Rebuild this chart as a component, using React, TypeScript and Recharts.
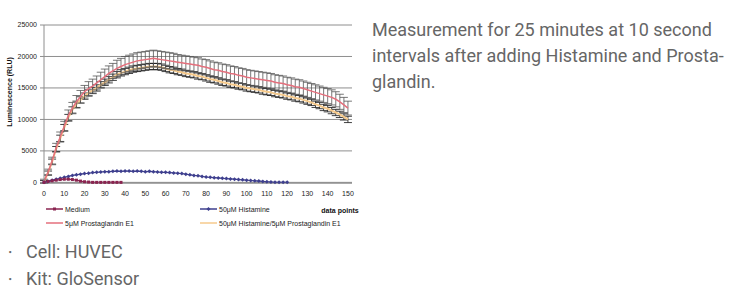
import React from "react";
import { LineChart, Line, XAxis, YAxis, CartesianGrid, ErrorBar, Legend } from "recharts";

// data points (x), sampled every 2 points
const points: number[] = [
  0, 2, 4, 6, 8, 10, 12, 14, 16, 18, 20, 22, 24, 26, 28, 30, 32, 34, 36, 38,
  40, 42, 44, 46, 48, 50, 52, 54, 56, 58, 60, 62, 64, 66, 68, 70, 72, 74, 76, 78,
  80, 82, 84, 86, 88, 90, 92, 94, 96, 98, 100, 102, 104, 106, 108, 110, 112, 114, 116, 118,
  120, 122, 124, 126, 128, 130, 132, 134, 136, 138, 140, 142, 144, 146, 148, 150,
];

const medium: (number | null)[] = [
  0, 150, 250, 350, 450, 500, 500, 450, 350, 200, 100, 50, 0, 0, 0, 0, 0, 0, 0, 0,
];

const histamine: (number | null)[] = [
  0, 150, 350, 500, 650, 800, 950, 1100, 1200, 1300, 1400, 1450, 1550, 1600, 1650, 1700, 1700, 1750, 1800, 1750,
  1800, 1800, 1750, 1800, 1750, 1700, 1750, 1700, 1650, 1600, 1600, 1550, 1500, 1450, 1400, 1300, 1200, 1100, 1050, 950,
  850, 800, 750, 700, 650, 600, 550, 500, 450, 400, 350, 300, 250, 200, 150, 100, 50, 0, 0, 0,
  0,
];

const prostaglandin: number[] = [
  200, 1600, 3400, 5500, 7200, 8900, 10600, 11800, 12800, 13600, 14400, 14900, 15300, 15800, 16300, 16800, 17300, 17700, 18100, 18400,
  18700, 18900, 19100, 19300, 19400, 19500, 19600, 19700, 19600, 19500, 19400, 19300, 19200, 19100, 19000, 18900, 18800, 18700, 18600, 18400,
  18300, 18100, 17900, 17800, 17600, 17500, 17300, 17200, 17000, 16900, 16700, 16600, 16500, 16400, 16300, 16200, 16100, 15900, 15800, 15700,
  15500, 15400, 15200, 15100, 14900, 14700, 14500, 14300, 14100, 13900, 13700, 13500, 13200, 12800, 12300, 11800,
];

const prostaglandinErr: number[] = [
  300, 500, 600, 700, 800, 800, 900, 900, 1000, 1000, 1000, 1100, 1100, 1100, 1200, 1200, 1200, 1200, 1300, 1300,
  1300, 1300, 1300, 1300, 1300, 1300, 1300, 1300, 1300, 1300, 1300, 1300, 1300, 1200, 1200, 1200, 1200, 1200, 1200, 1200,
  1200, 1200, 1200, 1200, 1200, 1200, 1200, 1200, 1200, 1200, 1200, 1200, 1200, 1200, 1200, 1200, 1200, 1200, 1200, 1200,
  1200, 1200, 1200, 1200, 1200, 1200, 1200, 1200, 1200, 1200, 1200, 1200, 1200, 1200, 1200, 1100,
];

const combined: number[] = [
  100, 1500, 3300, 5300, 7000, 8700, 10300, 11500, 12400, 13100, 13700, 14200, 14600, 15000, 15500, 15900, 16300, 16700, 17100, 17400,
  17600, 17800, 18000, 18100, 18200, 18300, 18400, 18400, 18400, 18300, 18100, 17900, 17800, 17600, 17500, 17300, 17200, 17100, 16900, 16800,
  16600, 16400, 16300, 16100, 15900, 15800, 15600, 15500, 15300, 15200, 15000, 14900, 14800, 14700, 14500, 14400, 14300, 14100, 14000, 13900,
  13700, 13600, 13400, 13300, 13100, 12900, 12700, 12400, 12200, 11900, 11700, 11400, 11100, 10800, 10400, 10000,
];

const combinedErr: number[] = [
  200, 300, 400, 400, 500, 500, 500, 500, 500, 500, 500, 500, 500, 500, 500, 500, 500, 500, 500, 500,
  500, 500, 500, 500, 500, 500, 500, 500, 500, 500, 500, 500, 500, 500, 500, 500, 500, 500, 500, 500,
  500, 500, 500, 500, 500, 500, 500, 500, 500, 500, 500, 500, 500, 500, 500, 500, 500, 500, 500, 500,
  500, 500, 500, 500, 500, 500, 500, 500, 500, 500, 500, 500, 500, 500, 500, 500,
];

const xTicks: number[] = [0, 10, 20, 30, 40, 50, 60, 70, 80, 90, 100, 110, 120, 130, 140, 150];
const yTicks: number[] = [0, 5000, 10000, 15000, 20000, 25000];

const seriesNames = {
  m: "Medium",
  h: "50\u03bcM Histamine",
  p: "5\u03bcM Prostaglandin E1",
  c: "50\u03bcM Histamine/5\u03bcM Prostaglandin E1",
};

const COLORS = {
  m: "#8a2450",
  h: "#3e3f8e",
  p: "#e46f7c",
  c: "#f6ca8c",
};

const data = points.map((x, i) => ({
  x,
  m: i < medium.length ? medium[i] : null,
  h: i < histamine.length ? histamine[i] : null,
  p: prostaglandin[i],
  pe: prostaglandinErr[i],
  c: combined[i],
  ce: combinedErr[i],
}));

const FONT = "'Liberation Sans', Arial, sans-serif";

const SquareDot = (props: any) => {
  const { cx, cy } = props;
  if (cx == null || cy == null || props.value == null) return null;
  return <rect x={cx - 1.5} y={cy - 1.5} width={3} height={3} fill={COLORS.m} />;
};

const DiamondDot = (props: any) => {
  const { cx, cy } = props;
  if (cx == null || cy == null || props.value == null) return null;
  return (
    <polygon
      points={`${cx},${cy - 2} ${cx + 2},${cy} ${cx},${cy + 2} ${cx - 2},${cy}`}
      fill={COLORS.h}
    />
  );
};

const LegendContent = () => {
  const item = (x: number, y: number, color: string, label: string, marker?: "sq" | "di") => (
    <g key={label}>
      <line x1={x} y1={y} x2={x + 17} y2={y} stroke={color} strokeWidth={1.5} />
      {marker === "sq" && <rect x={x + 7} y={y - 1.5} width={3} height={3} fill={color} />}
      {marker === "di" && (
        <polygon points={`${x + 8.5},${y - 2} ${x + 10.5},${y} ${x + 8.5},${y + 2} ${x + 6.5},${y}`} fill={color} />
      )}
      <text x={x + 19} y={y + 2.5} fontSize={7} fill="#222" fontFamily={FONT}>
        {label}
      </text>
    </g>
  );
  return (
    <svg width={360} height={30} style={{ display: "block" }}>
      {item(46, 7, COLORS.m, seriesNames.m, "sq")}
      {item(200, 7, COLORS.h, seriesNames.h, "di")}
      {item(46, 21, COLORS.p, seriesNames.p)}
      {item(200, 21, COLORS.c, seriesNames.c)}
    </svg>
  );
};

const YLabel = () => (
  <text
    x={12}
    y={92}
    transform="rotate(-90 12 92)"
    textAnchor="middle"
    fontSize={7}
    fontWeight="bold"
    fill="#111"
    fontFamily={FONT}
  >
    Luminescence (RLU)
  </text>
);

const XLabel = (props: any) => {
  const vb = props.viewBox || { x: 44, y: 183, width: 308, height: 20 };
  return (
    <text
      x={vb.x + vb.width - 12}
      y={vb.y + 30}
      textAnchor="middle"
      fontSize={7}
      fontWeight="bold"
      fill="#111"
      fontFamily={FONT}
    >
      data points
    </text>
  );
};

const textStyle: React.CSSProperties = {
  position: "absolute",
  fontFamily: "Roboto, 'Noto Sans', sans-serif",
  fontSize: 18,
  color: "#666",
  whiteSpace: "nowrap",
};

const bulletStyle: React.CSSProperties = {
  display: "inline-block",
  width: 18,
  position: "relative",
  left: -5,
  fontSize: 14,
  verticalAlign: "1px",
};

export default function App() {
  return (
    <div style={{ position: "absolute", left: 0, top: 0, width: 750, height: 293, background: "#fff", overflow: "hidden" }}>
      <div style={{ position: "absolute", left: 0, top: 0 }}>
        <LineChart width={360} height={240} data={data} margin={{ top: 25, right: 8, bottom: 37, left: 0 }}>
          <CartesianGrid vertical={false} stroke="#8e8e8e" strokeWidth={1} />
          <XAxis
            dataKey="x"
            type="number"
            domain={[0, 152]}
            ticks={xTicks}
            interval={0}
            tickLine={false}
            axisLine={{ stroke: "#8e8e8e" }}
            tick={{ fontSize: 7, fill: "#222", fontFamily: FONT }}
            height={20}
            label={<XLabel />}
          />
          <YAxis
            type="number"
            domain={[0, 25000]}
            ticks={yTicks}
            interval={0}
            width={44}
            tickSize={4}
            tickMargin={3}
            tickLine={{ stroke: "#8e8e8e" }}
            axisLine={{ stroke: "#8e8e8e" }}
            tick={{ fontSize: 7, fill: "#222", fontFamily: FONT }}
            label={<YLabel />}
          />
          <Line
            dataKey="c"
            name={seriesNames.c}
            stroke={COLORS.c}
            strokeWidth={2}
            dot={false}
            isAnimationActive={false}
          >
            <ErrorBar dataKey="ce" width={4} stroke="#111" strokeWidth={0.8} direction="y" />
          </Line>
          <Line
            dataKey="p"
            name={seriesNames.p}
            stroke={COLORS.p}
            strokeWidth={1.5}
            dot={false}
            isAnimationActive={false}
          >
            <ErrorBar dataKey="pe" width={4} stroke="#555" strokeWidth={0.8} direction="y" />
          </Line>
          <Line
            dataKey="h"
            name={seriesNames.h}
            stroke={COLORS.h}
            strokeWidth={1.2}
            dot={<DiamondDot />}
            connectNulls={false}
            isAnimationActive={false}
          />
          <Line
            dataKey="m"
            name={seriesNames.m}
            stroke={COLORS.m}
            strokeWidth={1.2}
            dot={<SquareDot />}
            connectNulls={false}
            isAnimationActive={false}
          />
          <Legend
            layout="horizontal"
            verticalAlign="middle"
            align="center"
            content={<LegendContent />}
            wrapperStyle={{ position: "absolute", top: 202, left: 0, width: 360, height: 30 }}
          />
        </LineChart>
      </div>

      <div style={{ ...textStyle, left: 372, top: 17, lineHeight: "26px" }}>
        Measurement for 25 minutes at 10 second
        <br />
        intervals after adding Histamine and Prosta-
        <br />
        glandin.
      </div>

      <div style={{ ...textStyle, left: 8, top: 239, lineHeight: "26.5px" }}>
        <span style={bulletStyle}>・</span>Cell: HUVEC
        <br />
        <span style={bulletStyle}>・</span>Kit: GloSensor
      </div>
    </div>
  );
}
